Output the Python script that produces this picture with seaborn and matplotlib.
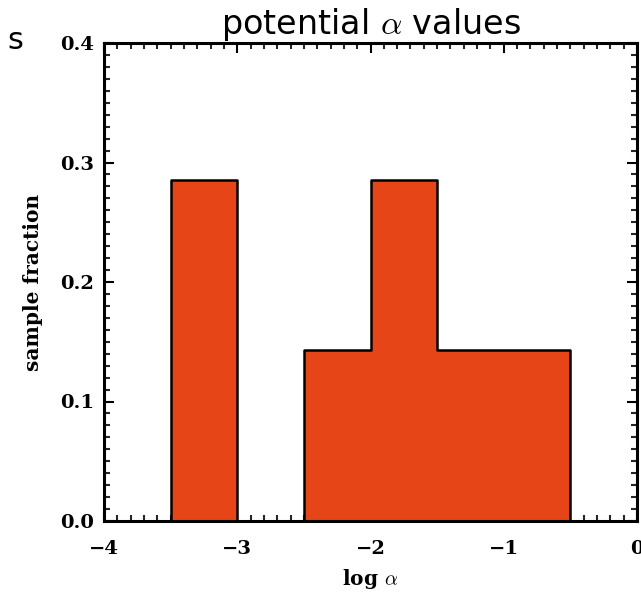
import numpy as np
import pandas as pd
import matplotlib
matplotlib.use("Agg")
import matplotlib.pyplot as plt
import seaborn as sns
from matplotlib.ticker import MultipleLocator

# Histogram of log alpha: bin centres (width 0.5 over -4..0) and sample fractions
log_alpha_centers = [-3.75, -3.25, -2.75, -2.25, -1.75, -1.25, -0.75, -0.25]
sample_fraction = [0.0, 0.2857, 0.0, 0.1429, 0.2857, 0.1429, 0.1429, 0.0]
bin_edges = [-4.0, -3.5, -3.0, -2.5, -2.0, -1.5, -1.0, -0.5, 0.0]

x_ticks = [-4, -3, -2, -1, 0]
y_ticks = [0.0, 0.1, 0.2, 0.3, 0.4]

df = pd.DataFrame({"log_alpha": log_alpha_centers, "fraction": sample_fraction})

sns.set_style("ticks")
plt.rcParams["mathtext.fontset"] = "cm"
plt.rcParams["text.color"] = "black"

fig = plt.figure(figsize=(6.41, 5.95), dpi=100)
ax = fig.add_axes([104 / 641, 1 - 521 / 595, 533 / 641, 478 / 595])

sns.histplot(data=df, x="log_alpha", weights="fraction", bins=bin_edges,
             element="step", fill=True, color="#E64517", alpha=1.0,
             edgecolor="black", linewidth=1.8, ax=ax)

ax.set_xlim(-4, 0)
ax.set_ylim(0, 0.4)
ax.set_xticks(x_ticks)
ax.set_yticks(y_ticks)
ax.set_xticklabels(["\u22124", "\u22123", "\u22122", "\u22121", "0"])
ax.set_yticklabels([f"{v:.1f}" for v in y_ticks])
ax.xaxis.set_minor_locator(MultipleLocator(0.1))
ax.yaxis.set_minor_locator(MultipleLocator(0.01))

serif = {"family": "DejaVu Serif", "weight": "bold", "size": 14.5,
         "color": "black"}
for lab in ax.get_xticklabels() + ax.get_yticklabels():
    lab.set_fontfamily("DejaVu Serif")
    lab.set_fontweight("bold")
    lab.set_fontsize(14)
    lab.set_color("black")

ax.tick_params(which="major", direction="in", length=7, width=1.5,
               top=True, right=True, colors="black")
ax.tick_params(which="minor", direction="in", length=4, width=1.5,
               top=True, right=True)
ax.tick_params(axis="x", which="major", pad=14)
ax.tick_params(axis="y", which="major", pad=7)

for sp in ax.spines.values():
    sp.set_visible(True)
    sp.set_linewidth(2.2)
    sp.set_color("black")

ax.set_xlabel(r"log $\alpha$", fontdict=serif, labelpad=6)
ax.set_ylabel("sample fraction", fontdict=serif, labelpad=12)
ax.set_title(r"potential $\alpha$ values", fontsize=24, color="black",
             family="DejaVu Sans", pad=2)

fig.text(0.012, 0.932, "s", fontsize=22, family="DejaVu Sans", va="center",
         color="black")

fig.savefig("out.png", dpi=100)
